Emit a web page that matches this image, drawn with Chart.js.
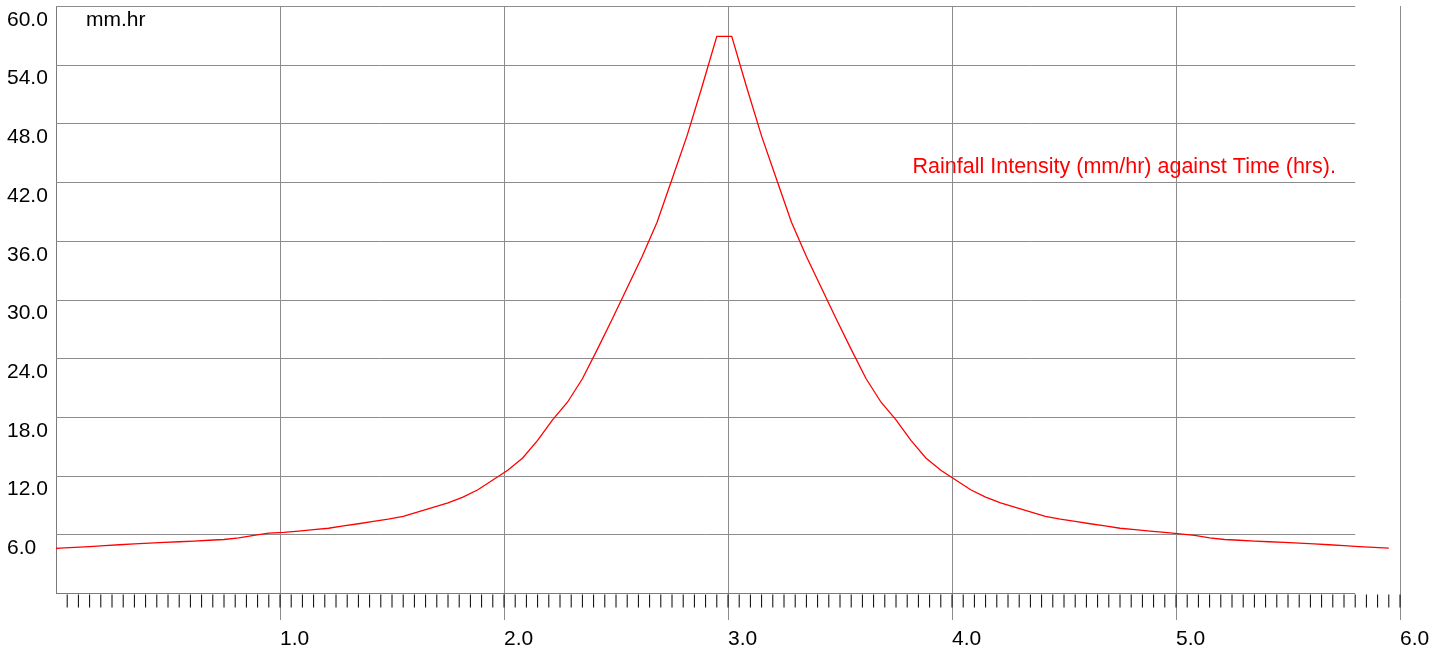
<!DOCTYPE html>
<html>
<head>
<meta charset="utf-8">
<script src="https://cdn.jsdelivr.net/npm/chart.js@4.4.1/dist/chart.umd.min.js"></script>
<style>
  html, body { margin: 0; padding: 0; background: #fff; }
  #wrap { width: 1450px; height: 652px; }
</style>
</head>
<body>
<div id="wrap"><canvas id="rainChart" width="1450" height="652"></canvas></div>
<script>
// time of each step, minutes from start of storm
var minutes = [0, 1, 5, 9, 13, 17, 21, 25, 29, 33, 37, 41, 45, 49, 53, 57, 61, 65, 69, 73,
    77, 81, 85, 89, 93, 97, 101, 105, 109, 113, 117, 121, 125, 129, 133, 137, 141, 145,
    149, 153, 157, 161, 165, 169, 173, 177,
    181, 185, 189, 193, 197, 201, 205, 209, 213, 217, 221, 225, 229, 233, 237, 241, 245,
    249, 253, 257, 261, 265, 269, 273, 277, 281, 285, 289, 293, 297, 301, 305, 309, 313,
    317, 321, 325, 329, 333, 337, 341, 345, 349, 353, 357];

// rainfall intensity, mm/hr
var intensity = [4.55, 4.58, 4.66, 4.75, 4.84, 4.93, 5.02, 5.10, 5.17, 5.24, 5.30,
    5.39, 5.47, 5.64, 5.90, 6.12, 6.20, 6.33, 6.48, 6.62, 6.86,
    7.08, 7.33, 7.55, 7.83, 8.28, 8.75, 9.22, 9.80, 10.55, 11.55,
    12.55, 13.80, 15.60, 17.70, 19.50, 21.90, 24.90, 28.00, 31.20, 34.40,
    37.90, 42.30, 46.70, 51.70, 56.90,
    56.90, 51.70, 46.70, 42.30, 37.90, 34.40, 31.20, 28.00, 24.90, 21.90,
    19.50, 17.70, 15.60, 13.80, 12.55, 11.55, 10.55, 9.80, 9.22, 8.75,
    8.28, 7.83, 7.55, 7.33, 7.08, 6.86, 6.62, 6.48, 6.33, 6.20,
    6.05, 5.88, 5.64, 5.47, 5.39, 5.30, 5.24, 5.17, 5.10, 5.02,
    4.93, 4.84, 4.75, 4.66, 4.58];

var xTicks = [0, 1, 2, 3, 4, 5, 6];            // hours
var yTicks = [6, 12, 18, 24, 30, 36, 42, 48, 54, 60];
var unitLabel = 'mm.hr';
var chartTitle = 'Rainfall Intensity (mm/hr) against Time (hrs).';

var fam = '"Liberation Sans", Arial, Helvetica, sans-serif';
var gridColor = '#8c8c8c';

var points = minutes.map((m, i) => ({ x: m / 60, y: intensity[i] }));

var frame = {
    id: 'frame',
    beforeDatasetsDraw: (chart) => {
        var ctx = chart.ctx;
        var xs = chart.scales.x, ys = chart.scales.y;
        var left = xs.getPixelForValue(0);
        var gridEnd = xs.getPixelForValue(5.8);
        var base = Math.round(ys.getPixelForValue(0)) + 0.5;
        ctx.save();
        ctx.lineWidth = 1;
        ctx.strokeStyle = gridColor;
        yTicks.forEach((v) => {
            var py = Math.round(ys.getPixelForValue(v)) + 0.5;
            ctx.beginPath();
            ctx.moveTo(left, py);
            ctx.lineTo(gridEnd, py);
            ctx.stroke();
        });
        // bottom axis
        ctx.strokeStyle = '#7a7a7a';
        ctx.beginPath();
        ctx.moveTo(left, base);
        ctx.lineTo(gridEnd, base);
        ctx.stroke();
        // 3 minute ticks under the axis
        ctx.strokeStyle = '#000';
        for (var i = 1; i <= 120; i++) {
            var px = xs.getPixelForValue(i * 0.05);
            ctx.beginPath();
            ctx.moveTo(px, base + 1);
            ctx.lineTo(px, base + 14);
            ctx.stroke();
        }
        ctx.restore();
    },
    afterDatasetsDraw: (chart) => {
        var ctx = chart.ctx;
        var xs = chart.scales.x, ys = chart.scales.y;
        ctx.save();
        ctx.textBaseline = 'alphabetic';
        ctx.textAlign = 'left';
        ctx.font = '21px ' + fam;
        ctx.fillStyle = '#000';
        ctx.fillText(unitLabel, xs.getPixelForValue(0.134), ys.getPixelForValue(57.95));
        ctx.font = '21.5px ' + fam;
        ctx.fillStyle = '#ff0000';
        ctx.fillText(chartTitle, xs.getPixelForValue(3.824), ys.getPixelForValue(42.9));
        ctx.restore();
    }
};

var ctx = document.getElementById('rainChart').getContext('2d');
var myChart = new Chart(ctx, {
    type: 'line',
    data: {
        datasets: [{
            label: 'Rainfall intensity',
            data: points,
            borderColor: '#ff0000',
            borderWidth: 1.3,
            pointRadius: 0,
            tension: 0,
            fill: false
        }]
    },
    options: {
        responsive: false,
        animation: false,
        devicePixelRatio: 1,
        layout: { padding: { left: 7, top: 6, right: 50, bottom: 0 } },
        plugins: {
            legend: { display: false },
            title: { display: false },
            tooltip: { enabled: false }
        },
        scales: {
            x: {
                type: 'linear',
                min: 0,
                max: 6,
                afterFit: (s) => { s.height = 59; s.paddingLeft = 0; s.paddingRight = 0; },
                afterBuildTicks: (s) => { s.ticks = xTicks.map((v) => ({ value: v })); },
                border: { display: false },
                grid: {
                    color: (c) => (c.tick && c.tick.value === 0) ? 'rgba(0,0,0,0)' : gridColor,
                    lineWidth: 1,
                    tickLength: 27
                },
                ticks: {
                    align: 'start',
                    padding: 7,
                    maxRotation: 0,
                    autoSkip: false,
                    color: '#000',
                    font: { size: 21, family: fam },
                    callback: (v) => v === 0 ? '' : v.toFixed(1)
                }
            },
            y: {
                min: 0,
                max: 60,
                afterFit: (s) => { s.width = 49; s.paddingTop = 0; s.paddingBottom = 0; },
                afterBuildTicks: (s) => { s.ticks = yTicks.map((v) => ({ value: v })); },
                border: { display: true, color: '#7a7a7a', width: 1 },
                grid: { display: false },
                ticks: {
                    crossAlign: 'far',
                    labelOffset: 14,
                    padding: 0,
                    color: '#000',
                    font: { size: 21, family: fam },
                    callback: (v) => v.toFixed(1)
                }
            }
        }
    },
    plugins: [frame]
});
</script>
</body>
</html>
